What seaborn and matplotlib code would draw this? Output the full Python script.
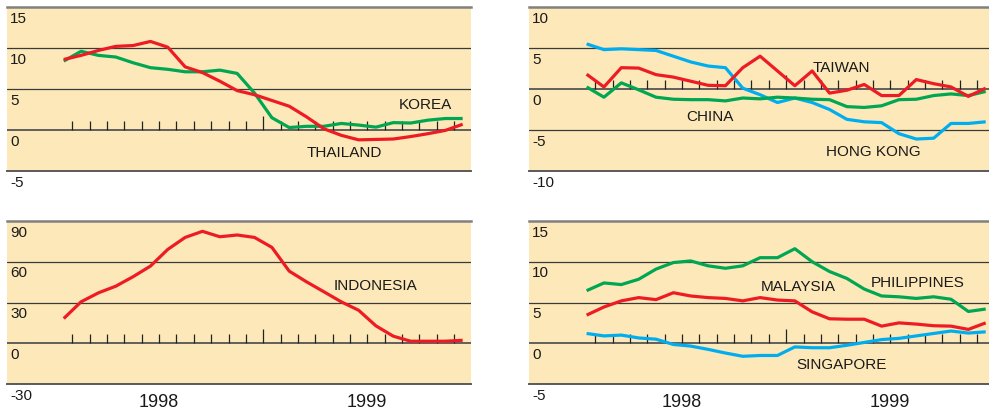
import numpy as np
import pandas as pd
import matplotlib
matplotlib.use("Agg")
import matplotlib.pyplot as plt
import matplotlib.transforms as mtransforms
import seaborn as sns

sns.set_theme(style="white")
plt.rcParams['font.family'] = ['Liberation Sans', 'DejaVu Sans']

# ---- data (monthly, Jan 1998 .. Dec 1999) ----
months = np.arange(24) + 0.5

thailand = [8.6, 9.1, 9.7, 10.2, 10.3, 10.8, 10.1, 7.7, 7.0, 5.95, 4.8, 4.3,
            3.6, 2.9, 1.6, 0.15, -0.65, -1.2, -1.15, -1.1, -0.8, -0.45, -0.05, 0.7]
korea = [8.4, 9.6, 9.1, 8.9, 8.2, 7.6, 7.4, 7.1, 7.1, 7.3, 6.9, 4.5,
         1.5, 0.3, 0.45, 0.45, 0.8, 0.6, 0.35, 0.9, 0.85, 1.2, 1.4, 1.4]

hongkong = [5.5, 4.8, 4.9, 4.8, 4.7, 4.0, 3.3, 2.8, 2.6, 0.1, -0.7, -1.65,
            -1.1, -1.65, -2.5, -3.7, -4.0, -4.1, -5.45, -6.1, -6.0, -4.2, -4.2, -4.0]
taiwan = [1.8, 0.25, 2.6, 2.55, 1.75, 1.45, 0.95, 0.45, 0.4, 2.6, 4.0, 2.2,
          0.4, 2.2, -0.5, -0.15, 0.55, -0.8, -0.8, 1.15, 0.65, 0.25, -0.9, 0.1]
china = [0.25, -1.0, 0.75, -0.1, -1.0, -1.25, -1.3, -1.3, -1.45, -1.1, -1.2, -1.0,
         -1.1, -1.25, -1.3, -2.15, -2.25, -2.05, -1.3, -1.25, -0.8, -0.6, -0.8, -0.3]

indonesia = [18.2, 30.5, 37.1, 42.0, 49.0, 56.8, 69.1, 77.9, 82.4, 78.4, 79.7, 77.9,
             70.6, 53.1, 45.2, 37.9, 30.5, 24.3, 12.8, 5.2, 1.5, 1.5, 1.5, 2.2]

philippines = [6.45, 7.4, 7.2, 7.85, 9.1, 9.9, 10.1, 9.5, 9.2, 9.5, 10.5, 10.5,
               11.6, 10.0, 8.8, 7.95, 6.65, 5.8, 5.7, 5.5, 5.7, 5.4, 3.9, 4.2]
malaysia = [3.45, 4.45, 5.2, 5.6, 5.35, 6.2, 5.8, 5.6, 5.5, 5.2, 5.6, 5.3,
            5.2, 3.85, 3.0, 2.95, 2.95, 2.1, 2.5, 2.35, 2.15, 2.1, 1.7, 2.5]
singapore = [1.2, 0.9, 1.0, 0.65, 0.5, -0.15, -0.35, -0.75, -1.2, -1.6, -1.5, -1.5,
             -0.45, -0.55, -0.55, -0.25, 0.1, 0.45, 0.6, 0.9, 1.2, 1.5, 1.25, 1.4]

year_labels = ["1998", "1999"]
year_centers = [6, 18]

RED = "#ED1C24"
GREEN = "#00A651"
BLUE = "#00AEEF"
BG = "#FDE8B9"
TXT = "#1a1a1a"

W, H = 989, 411
fig = plt.figure(figsize=(W / 100, H / 100), dpi=100)

def px_axes(x0, x1, y0, y1):
    return fig.add_axes([x0 / W, 1 - y1 / H, (x1 - x0) / W, (y1 - y0) / H])

panels = [
    dict(rect=(7, 471, 7, 171), xlim=(-2.77, 23.98), ylim=(-5, 15), step=5,
         series=[("Korea", korea, GREEN), ("Thailand", thailand, RED)],
         labels=[("KOREA", 19.83, 3.05), ("THAILAND", 14.52, -2.8)], years=False),
    dict(rect=(529, 989, 7, 171), xlim=(-2.82, 23.69), ylim=(-10, 10), step=5,
         series=[("Hong Kong", hongkong, BLUE), ("China", china, GREEN), ("Taiwan", taiwan, RED)],
         labels=[("TAIWAN", 13.54, 2.56), ("CHINA", 6.22, -3.41), ("HONG KONG", 14.29, -7.68)], years=False),
    dict(rect=(7, 471, 221, 384), xlim=(-2.77, 23.98), ylim=(-30, 90), step=30,
         series=[("Indonesia", indonesia, RED)],
         labels=[("INDONESIA", 16.08, 42.1)], years=True),
    dict(rect=(529, 989, 221, 384), xlim=(-2.82, 23.69), ylim=(-5, 15), step=5,
         series=[("Philippines", philippines, GREEN), ("Malaysia", malaysia, RED), ("Singapore", singapore, BLUE)],
         labels=[("MALAYSIA", 10.55, 6.9), ("PHILIPPINES", 16.89, 7.4), ("SINGAPORE", 12.56, -2.67)], years=True),
]

for p in panels:
    ax = px_axes(*p["rect"])
    ax.set_facecolor(BG)
    for name, vals, col in p["series"]:
        df = pd.DataFrame({"month": months, "value": vals})
        sns.lineplot(data=df, x="month", y="value", ax=ax, color=col, lw=2.3,
                     solid_joinstyle="round", solid_capstyle="butt", zorder=3)
    ax.set_xlim(*p["xlim"])
    ax.set_ylim(*p["ylim"])
    ax.set_xlabel("")
    ax.set_ylabel("")
    ax.set_xticks([])
    ax.set_yticks([])
    for s in ["left", "right"]:
        ax.spines[s].set_visible(False)
    ax.spines["top"].set_color("#808080")
    ax.spines["top"].set_linewidth(1.8)
    ax.spines["bottom"].set_color("#5a5a5a")
    ax.spines["bottom"].set_linewidth(1.4)
    lo, hi = p["ylim"]
    levels = np.arange(lo, hi + 0.1, p["step"])
    for lv in levels[1:-1]:
        ax.axhline(lv, color="#3a3a3a" if lv != 0 else "#555555",
                   lw=0.9 if lv != 0 else 1.3, zorder=1)
    # month ticks on zero line
    trans = mtransforms.blended_transform_factory(ax.transData, ax.transAxes)
    zf = (0 - lo) / (hi - lo)
    mt = [m for m in range(1, 24) if m != 12]
    ax.vlines(mt, zf, zf + 9 / 164, transform=trans, color="#222222", lw=0.9, zorder=2)
    ax.vlines([12], zf, zf + 14 / 164, transform=trans, color="#222222", lw=0.9, zorder=2)
    # y labels below each line
    for lv in levels:
        ax.annotate(f"{lv:g}", xy=(0, lv), xycoords=("axes fraction", "data"),
                    xytext=(2.2, -3.3), textcoords="offset points",
                    ha="left", va="top", fontsize=11, color=TXT, annotation_clip=False)
    for txt, x, y in p["labels"]:
        ax.text(x, y, txt, ha="left", va="center", fontsize=11, color=TXT, zorder=4)
    if p["years"]:
        for lab, xc in zip(year_labels, year_centers):
            ax.annotate(lab, xy=(xc, 0), xycoords=("data", "axes fraction"),
                        xytext=(0, -13), textcoords="offset points",
                        ha="center", va="center", fontsize=13, color=TXT,
                        annotation_clip=False)

fig.savefig("out.png", dpi=100, facecolor="white")
